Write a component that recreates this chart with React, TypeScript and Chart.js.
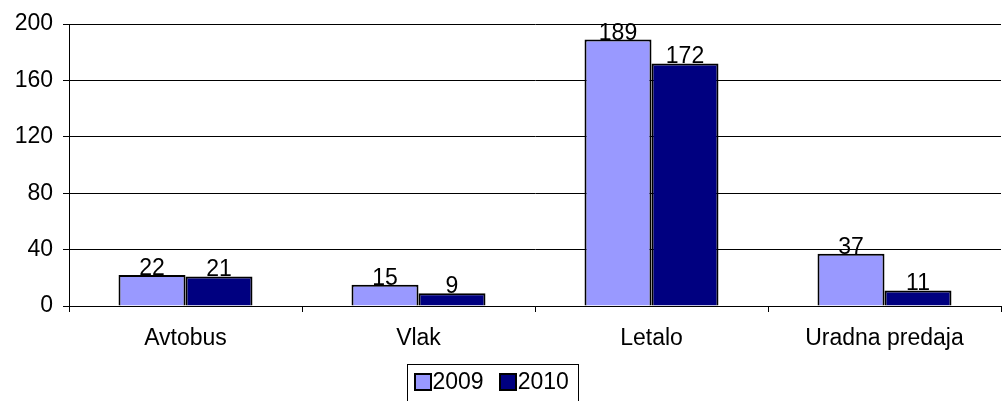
import React, { useEffect, useRef } from "react";
import { Chart, registerables } from "chart.js";

Chart.register(...registerables);

const categories = ["Avtobus", "Vlak", "Letalo", "Uradna predaja"];
const seriesNames = ["2009", "2010"];
const values2009 = [22, 15, 189, 37];
const values2010 = [21, 9, 172, 11];
const yTicks = [0, 40, 80, 120, 160, 200];

const colors = ["#9999FF", "#000080"];
const FONT = "Arial, 'Liberation Sans', sans-serif";
const FS = 23;

const valueLabels = {
  id: "valueLabels",
  afterDatasetsDraw(chart: any) {
    const ctx = chart.ctx;
    ctx.save();
    ctx.font = `${FS}px ${FONT}`;
    ctx.fillStyle = "#000";
    ctx.textAlign = "center";
    ctx.textBaseline = "alphabetic";
    chart.data.datasets.forEach((ds: any, di: number) => {
      const meta = chart.getDatasetMeta(di);
      meta.data.forEach((el: any, i: number) => {
        ctx.fillText(String(ds.data[i]), el.x, el.y);
      });
    });
    ctx.restore();
  },
};

const boxLegend = {
  id: "boxLegend",
  afterDraw(chart: any) {
    const ctx = chart.ctx;
    ctx.save();
    ctx.font = `${FS}px ${FONT}`;
    const sq = 16;
    const gapSqText = 2;
    const gapItems = 16;
    const padL = 7;
    const padR = 10;
    const items = chart.data.datasets.map((ds: any) => ({
      label: ds.label,
      color: ds.backgroundColor,
      w: ctx.measureText(ds.label).width,
    }));
    let total = padL + padR;
    items.forEach((it: any, i: number) => {
      total += sq + gapSqText + it.w + (i < items.length - 1 ? gapItems : 0);
    });
    const left = Math.round(493 - total / 2) + 0.5;
    const top = 364.5;
    const h = 40;
    ctx.strokeStyle = "#000";
    ctx.lineWidth = 1;
    ctx.strokeRect(left, top, Math.round(total), h);
    let x = left + padL;
    const cy = 382;
    ctx.textBaseline = "middle";
    ctx.textAlign = "left";
    items.forEach((it: any) => {
      ctx.fillStyle = it.color;
      ctx.fillRect(Math.round(x), cy - sq / 2, sq, sq);
      ctx.strokeStyle = "#000";
      ctx.lineWidth = 2;
      ctx.strokeRect(Math.round(x), cy - sq / 2, sq, sq);
      x += sq + gapSqText;
      ctx.fillStyle = "#000";
      ctx.fillText(it.label, x, cy + 1);
      x += it.w + gapItems;
    });
    ctx.restore();
  },
};

export default function App() {
  const ref = useRef<HTMLCanvasElement | null>(null);
  useEffect(() => {
    document.body.style.margin = "0";
    if (!ref.current) return;
    const chart = new Chart(ref.current, {
      type: "bar",
      data: {
        labels: categories,
        datasets: [
          {
            label: seriesNames[0],
            data: values2009,
            backgroundColor: colors[0],
            borderColor: "#000",
            borderWidth: 2,
            categoryPercentage: 0.575,
            barPercentage: 1,
          },
          {
            label: seriesNames[1],
            data: values2010,
            backgroundColor: colors[1],
            borderColor: "#000",
            borderWidth: 2,
            categoryPercentage: 0.575,
            barPercentage: 1,
          },
        ],
      },
      options: {
        responsive: false,
        animation: false,
        layout: { padding: { top: 24, right: 1, left: 0, bottom: 37 } },
        plugins: {
          legend: { display: false },
          tooltip: { enabled: false },
        },
        scales: {
          x: {
            afterFit: (s: any) => {
              s.height = 58;
            },
            grid: {
              offset: true,
              drawOnChartArea: false,
              drawTicks: true,
              tickLength: 6,
              color: "#000",
            },
            border: { color: "#000", width: 1 },
            ticks: {
              color: "#000",
              font: { size: FS, family: FONT },
              padding: 13,
              maxRotation: 0,
            },
          },
          y: {
            min: 0,
            max: 200,
            afterFit: (s: any) => {
              s.width = 69;
            },
            afterBuildTicks: (s: any) => {
              s.ticks = yTicks.map((v) => ({ value: v }));
            },
            grid: {
              color: "#000",
              lineWidth: 1,
              tickLength: 6,
            },
            border: { color: "#000", width: 1 },
            ticks: {
              color: "#000",
              font: { size: FS, family: FONT },
              padding: 10,
            },
          },
        },
      },
      plugins: [valueLabels, boxLegend],
    });
    return () => chart.destroy();
  }, []);
  return (
    <canvas
      ref={ref}
      width={1002}
      height={401}
      style={{ display: "block", width: 1002, height: 401 }}
    />
  );
}
